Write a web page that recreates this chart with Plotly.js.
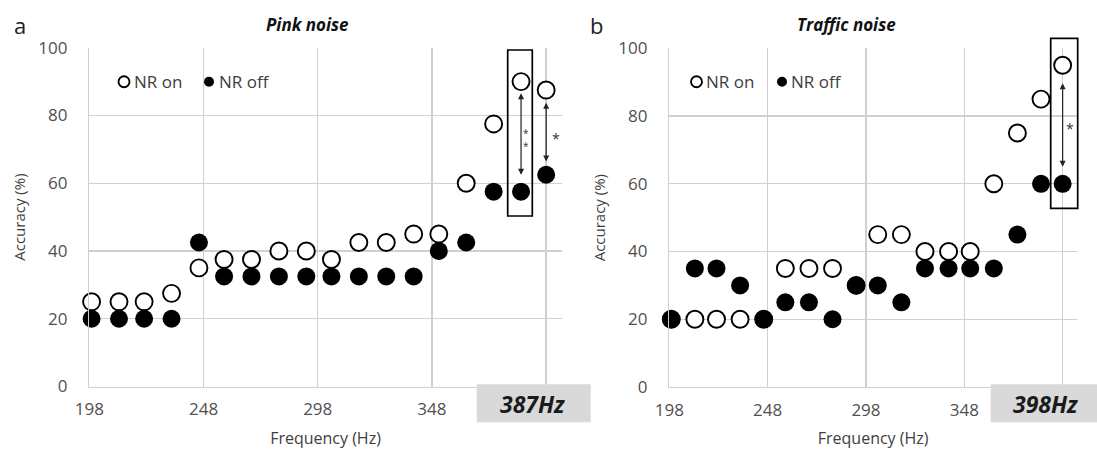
<!DOCTYPE html>
<html>
<head>
<meta charset="utf-8">
<script src="https://cdn.plot.ly/plotly-3.0.1.min.js"></script>
<style>html,body{margin:0;padding:0;background:#fff;}#chart{width:1097px;height:453px;}</style>
</head>
<body>
<div id="chart"></div>
<script>
// ---- data ----
const freqs = [199, 211, 222, 234, 246, 257, 269, 281, 293, 304, 316, 328, 340, 351, 363, 375, 387, 398];
const pinkOn = [25, 25, 25, 27.5, 35, 37.5, 37.5, 40, 40, 37.5, 42.5, 42.5, 45, 45, 60, 77.5, 90, 87.5];
const pinkOff = [20, 20, 20, 20, 42.5, 32.5, 32.5, 32.5, 32.5, 32.5, 32.5, 32.5, 32.5, 40, 42.5, 57.5, 57.5, 62.5];
const trafficOn = [20, 20, 20, 20, 20, 35, 35, 35, 30, 45, 45, 40, 40, 40, 60, 75, 85, 95];
const trafficOff = [20, 35, 35, 30, 20, 25, 25, 20, 30, 30, 25, 35, 35, 35, 35, 45, 60, 60];
const xTickVals = [198, 248, 298, 348, 398];
const xTickText = ['198', '248', '298', '348', ''];
const yTickVals = [0, 20, 40, 60, 80, 100];
const panelTitles = ['Pink noise', 'Traffic noise'];
const panelLetters = ['a', 'b'];
const legendNames = ['NR on', 'NR off'];
const highlightLabels = ['387Hz', '398Hz'];

const W = 1097, H = 453;
const px = x => x / W;
const py = y => 1 - y / H;
const FONT = '"Open Sans", "DejaVu Sans", sans-serif';
const GRID = '#d0d0d0';
const TXT = '#505050';

const openMarker = {symbol: 'circle', size: 17, color: '#ffffff', line: {color: '#000000', width: 1.9}};
const fillMarker = {symbol: 'circle', size: 18, color: '#000000', line: {color: '#000000', width: 0}};

const traces = [
  {x: freqs, y: pinkOn, xaxis: 'x', yaxis: 'y', type: 'scatter', mode: 'markers', name: legendNames[0], marker: openMarker, showlegend: false, cliponaxis: false},
  {x: freqs, y: pinkOff, xaxis: 'x', yaxis: 'y', type: 'scatter', mode: 'markers', name: legendNames[1], marker: fillMarker, showlegend: false, cliponaxis: false},
  {x: freqs, y: trafficOn, xaxis: 'x2', yaxis: 'y2', type: 'scatter', mode: 'markers', name: legendNames[0], marker: openMarker, showlegend: false, cliponaxis: false},
  {x: freqs, y: trafficOff, xaxis: 'x2', yaxis: 'y2', type: 'scatter', mode: 'markers', name: legendNames[1], marker: fillMarker, showlegend: false, cliponaxis: false}
];

function xAxis(domain, range) {
  return {
    domain: domain, range: range, tickmode: 'array', tickvals: xTickVals, ticktext: xTickText,
    showgrid: true, gridcolor: GRID, gridwidth: 1.4, showline: true, linecolor: GRID, linewidth: 1.4,
    zeroline: false, ticks: '', ticklabelstandoff: 7, tickfont: {family: FONT, size: 17, color: TXT},
    title: {text: 'Frequency (Hz)', font: {family: FONT, size: 16, color: '#404040'}, standoff: 13},
    fixedrange: true
  };
}
function yAxis(domain, anchor) {
  return {
    domain: domain, range: [0, 100], tickmode: 'array', tickvals: yTickVals, anchor: anchor,
    showgrid: true, gridcolor: GRID, gridwidth: 1.4, showline: true, linecolor: GRID, linewidth: 1.4,
    zeroline: false, ticks: '', ticklabelstandoff: 17, tickfont: {family: FONT, size: 17, color: TXT},
    title: {text: 'Accuracy (%)', font: {family: FONT, size: 15, color: '#404040'}, standoff: 9},
    fixedrange: true
  };
}

const annotations = [];
const shapes = [];

// panel letters and titles
[[19.5, 25, 0], [596, 25, 1]].forEach(([x, y, i]) => {
  annotations.push({xref: 'paper', yref: 'paper', x: px(x), y: py(y), text: panelLetters[i], showarrow: false,
    xanchor: 'center', yanchor: 'middle', font: {family: FONT, size: 22, color: '#222'}});
});
[[307, 25, 0], [846, 25, 1]].forEach(([x, y, i]) => {
  annotations.push({xref: 'paper', yref: 'paper', x: px(x), y: py(y), text: '<b><i>' + panelTitles[i] + '</i></b>', showarrow: false,
    xanchor: 'center', yanchor: 'middle', font: {family: FONT, size: 17, color: '#111'}});
});

// legends (symbols + text)
function legend(xOpen, xOn, xFill, xOff, y) {
  shapes.push({type: 'circle', xref: 'paper', yref: 'paper', x0: px(xOpen - 5.5), x1: px(xOpen + 5.5), y0: py(y + 5.5), y1: py(y - 5.5),
    line: {color: '#000', width: 1.9}, fillcolor: '#fff', layer: 'above'});
  shapes.push({type: 'circle', xref: 'paper', yref: 'paper', x0: px(xFill - 5), x1: px(xFill + 5), y0: py(y + 5), y1: py(y - 5),
    line: {color: '#000', width: 0}, fillcolor: '#000', layer: 'above'});
  annotations.push({xref: 'paper', yref: 'paper', x: px(xOn), y: py(y), text: legendNames[0], showarrow: false,
    xanchor: 'left', yanchor: 'middle', font: {family: FONT, size: 17, color: '#404040'}});
  annotations.push({xref: 'paper', yref: 'paper', x: px(xOff), y: py(y), text: legendNames[1], showarrow: false,
    xanchor: 'left', yanchor: 'middle', font: {family: FONT, size: 17, color: '#404040'}});
}
legend(124, 132, 209, 217, 81.7);
legend(696.5, 704, 782, 789, 81.7);

// highlight rectangles
[[507.7, 532.3, 50, 216], [1050.7, 1077.7, 38.3, 208.3]].forEach(([x0, x1, y0, y1]) => {
  shapes.push({type: 'rect', xref: 'paper', yref: 'paper', x0: px(x0), x1: px(x1), y0: py(y1), y1: py(y0),
    line: {color: '#000', width: 1.7}, fillcolor: 'rgba(0,0,0,0)', layer: 'above'});
});

// grey frequency boxes
[[476.7, 590.7, 532.5, 0], [990.7, 1097, 1045, 1]].forEach(([x0, x1, xc, i]) => {
  shapes.push({type: 'rect', xref: 'paper', yref: 'paper', x0: px(x0), x1: px(x1), y0: py(422.3), y1: py(384.3),
    line: {width: 0}, fillcolor: '#d9d9d9', layer: 'above'});
  annotations.push({xref: 'paper', yref: 'paper', x: px(xc), y: py(404), text: '<b><i>' + highlightLabels[i] + '</i></b>', showarrow: false,
    xanchor: 'center', yanchor: 'middle', font: {family: FONT, size: 23, color: '#1a1a1a'}});
});

// significance arrows
function arrow(xr, yr, xv, yTop, yBot) {
  annotations.push({xref: xr, yref: yr, axref: xr, ayref: yr, x: xv, y: yBot, ax: xv, ay: yTop, text: '',
    showarrow: true, arrowhead: 2, arrowside: 'end+start', arrowsize: 1, arrowwidth: 1.2, arrowcolor: '#222',
    standoff: 0, startstandoff: 0});
}
arrow('x', 'y', 387, 87, 62.5);
arrow('x', 'y', 398, 84.2, 66.4);
arrow('x2', 'y2', 398, 90.1, 65);

// stars
[['x', 'y', 389.3, 73.0, '*<br>*', 10], ['x', 'y', 402.3, 73.3, '*', 14], ['x2', 'y2', 401.8, 76.2, '*', 14]].forEach(([xr, yr, x, y, t, s]) => {
  annotations.push({xref: xr, yref: yr, x: x, y: y, text: t, showarrow: false, xanchor: 'center', yanchor: 'middle',
    font: {family: FONT, size: s, color: '#333'}});
});

const layout = {
  width: W, height: H,
  margin: {l: 0, r: 0, t: 0, b: 0},
  paper_bgcolor: '#ffffff', plot_bgcolor: '#ffffff',
  showlegend: false,
  xaxis: xAxis([px(89.3), px(561.7)], [198, 404.8]),
  yaxis: yAxis([py(386.5), py(47.7)], 'x'),
  xaxis2: xAxis([px(669.3), px(1077)], [198, 405.3]),
  yaxis2: yAxis([py(387), py(48.3)], 'x2'),
  annotations: annotations,
  shapes: shapes,
  font: {family: FONT}
};
layout.xaxis2.anchor = 'y2';
layout.xaxis.anchor = 'y';

Plotly.newPlot('chart', traces, layout, {displayModeBar: false, staticPlot: true});
</script>
</body>
</html>
